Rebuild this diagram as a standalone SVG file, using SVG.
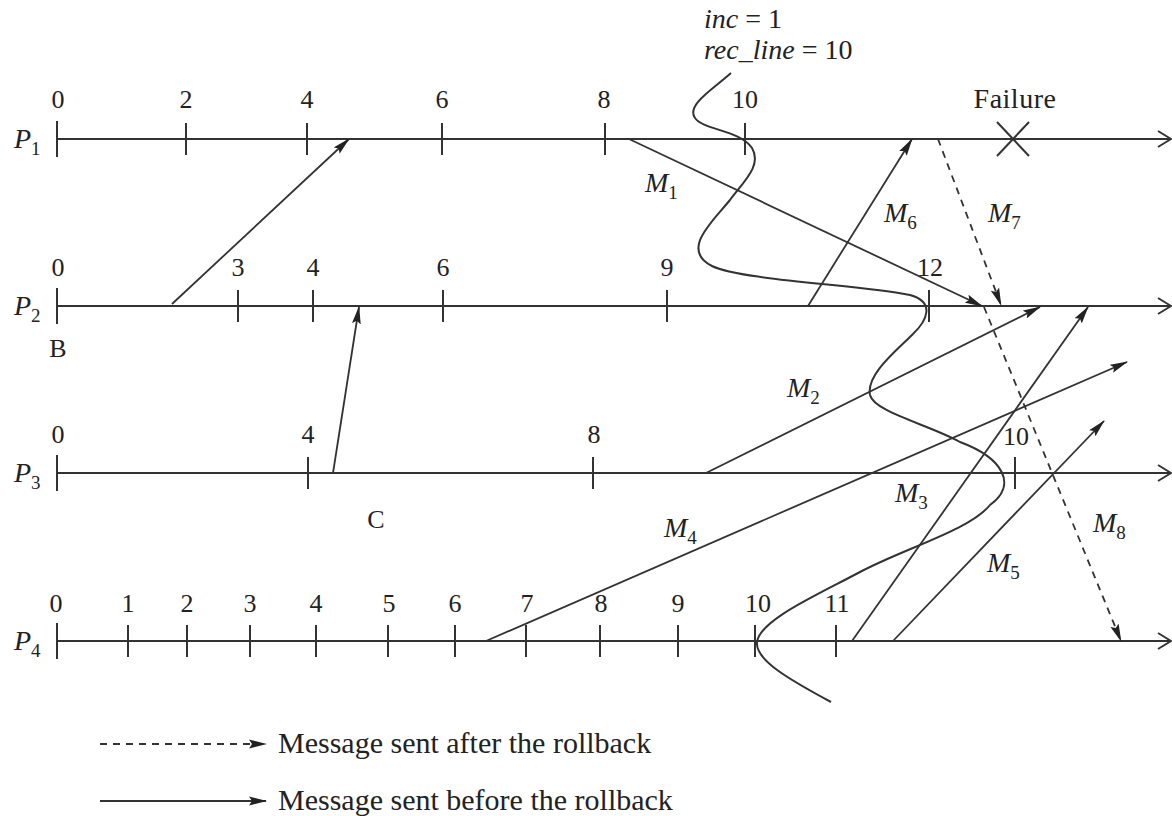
<svg xmlns="http://www.w3.org/2000/svg" width="1172" height="816" viewBox="0 0 1172 816">
<style>
.ln{stroke:#333;stroke-width:2;fill:none}
.tk{stroke:#333;stroke-width:2}
.msg{stroke:#333;stroke-width:1.8;fill:none}
.dash{stroke:#333;stroke-width:1.8;fill:none;stroke-dasharray:7,6}
text{font-family:'Liberation Serif','Times New Roman',Times,'DejaVu Serif','Noto Serif',serif;fill:#222}
.num{font-size:26px;text-anchor:middle}
.lab{font-size:28px;font-style:italic}
.sub{font-size:19px;font-style:normal}
.txt{font-size:28px}
.leg{font-size:30px}
</style>
<defs>
<marker id="ah" markerWidth="18" markerHeight="10" refX="17" refY="5" orient="auto" markerUnits="userSpaceOnUse">
<path d="M0,0.6 L18,5 L0,9.4 L3,5 Z" fill="#222"/>
</marker>
</defs>
<g id="P1">
<line class="ln" x1="57" y1="139" x2="1171" y2="139"/>
<polyline class="ln" points="1158,131 1171,139 1158,147"/>
<line class="tk" x1="57" y1="121" x2="57" y2="157"/>
<line class="tk" x1="186" y1="123" x2="186" y2="155"/>
<line class="tk" x1="307" y1="123" x2="307" y2="155"/>
<line class="tk" x1="442" y1="123" x2="442" y2="155"/>
<line class="tk" x1="605" y1="123" x2="605" y2="155"/>
<line class="tk" x1="745" y1="123" x2="745" y2="155"/>
<text class="lab" x="14" y="148">P<tspan class="sub" dy="7">1</tspan></text>
<text class="num" x="58" y="108">0</text>
<text class="num" x="186" y="108">2</text>
<text class="num" x="307" y="108">4</text>
<text class="num" x="442" y="108">6</text>
<text class="num" x="604" y="108">8</text>
<text class="num" x="745" y="108">10</text>
<text class="txt" x="1015" y="108" text-anchor="middle" letter-spacing="0.5">Failure</text>
<line class="tk" x1="997" y1="122" x2="1029" y2="156"/>
<line class="tk" x1="1029" y1="122" x2="997" y2="156"/>
</g>
<g id="P2">
<line class="ln" x1="57" y1="306" x2="1171" y2="306"/>
<polyline class="ln" points="1158,298 1171,306 1158,314"/>
<line class="tk" x1="57" y1="288" x2="57" y2="324"/>
<line class="tk" x1="238" y1="290" x2="238" y2="322"/>
<line class="tk" x1="313" y1="290" x2="313" y2="322"/>
<line class="tk" x1="443" y1="290" x2="443" y2="322"/>
<line class="tk" x1="667" y1="290" x2="667" y2="322"/>
<line class="tk" x1="929" y1="290" x2="929" y2="322"/>
<text class="lab" x="14" y="315">P<tspan class="sub" dy="7">2</tspan></text>
<text class="num" x="58" y="276">0</text>
<text class="num" x="238" y="276">3</text>
<text class="num" x="313" y="276">4</text>
<text class="num" x="443" y="276">6</text>
<text class="num" x="667" y="276">9</text>
<text class="num" x="930" y="276">12</text>
<text class="num" x="58" y="357">B</text>
</g>
<g id="P3">
<line class="ln" x1="57" y1="473" x2="1171" y2="473"/>
<polyline class="ln" points="1158,465 1171,473 1158,481"/>
<line class="tk" x1="57" y1="455" x2="57" y2="491"/>
<line class="tk" x1="308" y1="457" x2="308" y2="489"/>
<line class="tk" x1="593" y1="457" x2="593" y2="489"/>
<line class="tk" x1="1015" y1="457" x2="1015" y2="489"/>
<text class="lab" x="14" y="482">P<tspan class="sub" dy="7">3</tspan></text>
<text class="num" x="58" y="443">0</text>
<text class="num" x="308" y="443">4</text>
<text class="num" x="594" y="443">8</text>
<text class="num" x="1016" y="445">10</text>
<text class="num" x="376" y="528">C</text>
</g>
<g id="P4">
<line class="ln" x1="57" y1="641" x2="1171" y2="641"/>
<polyline class="ln" points="1158,633 1171,641 1158,649"/>
<line class="tk" x1="57" y1="623" x2="57" y2="659"/>
<line class="tk" x1="128" y1="625" x2="128" y2="657"/>
<line class="tk" x1="187" y1="625" x2="187" y2="657"/>
<line class="tk" x1="250" y1="625" x2="250" y2="657"/>
<line class="tk" x1="316" y1="625" x2="316" y2="657"/>
<line class="tk" x1="388" y1="625" x2="388" y2="657"/>
<line class="tk" x1="455" y1="625" x2="455" y2="657"/>
<line class="tk" x1="526" y1="625" x2="526" y2="657"/>
<line class="tk" x1="600" y1="625" x2="600" y2="657"/>
<line class="tk" x1="678" y1="625" x2="678" y2="657"/>
<line class="tk" x1="755" y1="625" x2="755" y2="657"/>
<line class="tk" x1="836" y1="625" x2="836" y2="657"/>
<text class="lab" x="14" y="650">P<tspan class="sub" dy="7">4</tspan></text>
<text class="num" x="56" y="612">0</text>
<text class="num" x="128" y="612">1</text>
<text class="num" x="187" y="612">2</text>
<text class="num" x="250" y="612">3</text>
<text class="num" x="316" y="612">4</text>
<text class="num" x="389" y="612">5</text>
<text class="num" x="455" y="612">6</text>
<text class="num" x="527" y="612">7</text>
<text class="num" x="601" y="612">8</text>
<text class="num" x="678" y="612">9</text>
<text class="num" x="758" y="612">10</text>
<text class="num" x="837" y="612">11</text>
</g>
<g id="recovery-line">
<path class="ln" d="M731,73 C712,90 686,105 695,118 C703,130 740,130 752,148 C762,165 745,180 730,200 C712,222 680,250 712,266 C740,280 860,285 910,295 C935,302 928,320 912,335 C895,352 866,375 870,395 C874,412 930,425 960,442 C1003,458 1018,485 990,505 C970,530 905,548 860,572 C815,596 760,620 757,642 C755,660 790,680 831,702"/>
<text class="lab" x="704" y="28">inc<tspan font-style="normal"> = 1</tspan></text>
<text class="lab" x="704" y="59">rec_line<tspan font-style="normal"> = 10</tspan></text>
</g>
<g id="connectors">
<line class="msg" x1="172" y1="304" x2="349" y2="139" marker-end="url(#ah)"/>
<line class="msg" x1="333" y1="473" x2="359" y2="307" marker-end="url(#ah)"/>
<line class="msg" x1="629" y1="139" x2="982" y2="306" marker-end="url(#ah)"/>
<line class="msg" x1="808" y1="306" x2="912" y2="139" marker-end="url(#ah)"/>
<line class="dash" x1="938" y1="139" x2="1001" y2="305" marker-end="url(#ah)"/>
<line class="dash" x1="984" y1="307" x2="1121" y2="641" marker-end="url(#ah)"/>
<line class="msg" x1="706" y1="473" x2="1040" y2="307" marker-end="url(#ah)"/>
<line class="msg" x1="486" y1="641" x2="1127" y2="362" marker-end="url(#ah)"/>
<line class="msg" x1="852" y1="641" x2="1088" y2="307" marker-end="url(#ah)"/>
<line class="msg" x1="893" y1="641" x2="1104" y2="421" marker-end="url(#ah)"/>
</g>
<g id="labels">
<text class="lab" x="645" y="192">M<tspan class="sub" dy="7">1</tspan></text>
<text class="lab" x="884" y="222">M<tspan class="sub" dy="7">6</tspan></text>
<text class="lab" x="988" y="222">M<tspan class="sub" dy="7">7</tspan></text>
<text class="lab" x="787" y="397">M<tspan class="sub" dy="7">2</tspan></text>
<text class="lab" x="895" y="502">M<tspan class="sub" dy="7">3</tspan></text>
<text class="lab" x="664" y="537">M<tspan class="sub" dy="7">4</tspan></text>
<text class="lab" x="987" y="572">M<tspan class="sub" dy="7">5</tspan></text>
<text class="lab" x="1093" y="532">M<tspan class="sub" dy="7">8</tspan></text>
</g>
<g id="legend">
<line class="dash" x1="100" y1="744" x2="266" y2="744" marker-end="url(#ah)"/>
<text class="leg" x="278" y="753">Message sent after the rollback</text>
<line class="msg" x1="100" y1="801" x2="266" y2="801" marker-end="url(#ah)"/>
<text class="leg" x="278" y="810">Message sent before the rollback</text>
</g>
</svg>
